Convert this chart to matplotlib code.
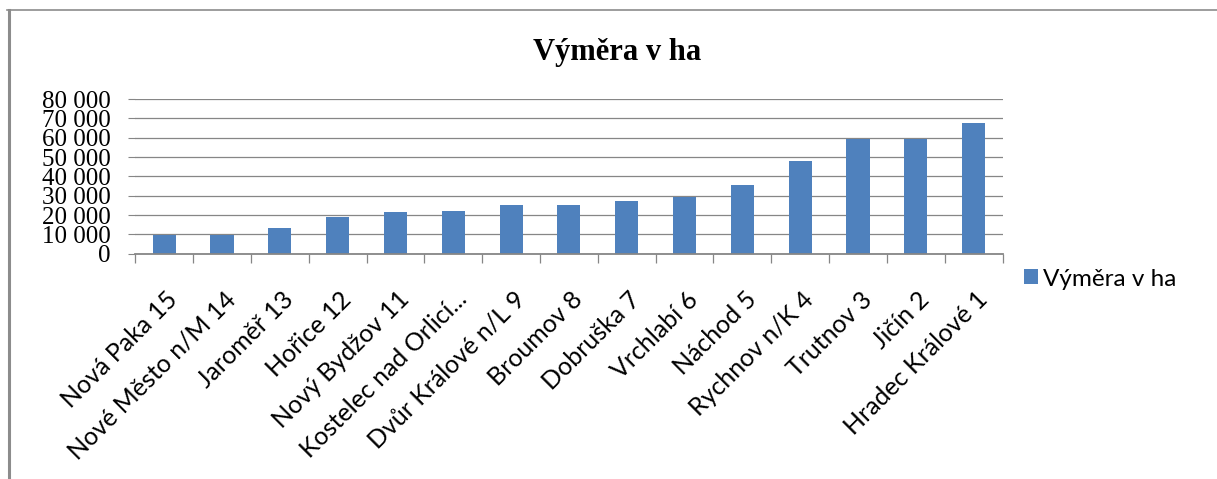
import matplotlib
matplotlib.use("Agg")
import matplotlib.pyplot as plt
import matplotlib.transforms as mtransforms
from matplotlib.lines import Line2D

# ---- data ----
categories = ["Nová Paka 15", "Nové Město n/M 14", "Jaroměř 13", "Hořice 12",
              "Nový Bydžov 11", "Kostelec nad Orlicí...", "Dvůr Králové n/L 9",
              "Broumov 8", "Dobruška 7", "Vrchlabí 6", "Náchod 5", "Rychnov n/K 4",
              "Trutnov 3", "Jičín 2", "Hradec Králové 1"]
values = [9800, 9800, 13400, 19100, 21600, 22100, 25200, 25200,
          27200, 29500, 35500, 47900, 59500, 59500, 67600]
yticks = [0, 10000, 20000, 30000, 40000, 50000, 60000, 70000, 80000]
series_name = "Výměra v ha"
title_text = "Výměra v ha"

W, H = 1217, 479
fig = plt.figure(figsize=(W / 100, H / 100), dpi=100)
fig.patch.set_facecolor("white")

BAR = "#4F81BD"
GRID = "#868686"
SANS = ["Lato", "DejaVu Sans"]
SERIF = ["Liberation Serif", "DejaVu Serif"]

ax = fig.add_axes([135.3 / W, (H - 253.7) / H, 867.2 / W, 154.7 / H])
x = list(range(len(categories)))
bars = ax.bar(x, values, width=0.4, color=BAR, zorder=3, label=series_name)
ax.set_xlim(-0.5, len(categories) - 0.5)
ax.set_ylim(0, 80000)

# y axis
ax.set_yticks(yticks)
ax.set_yticklabels([f"{v:,.0f}".replace(",", " ") for v in yticks],
                   family=SERIF, fontsize=18)
ax.tick_params(axis="y", length=5, width=0.8, color=GRID, pad=13, direction="out")
ax.yaxis.grid(True, color=GRID, linewidth=0.9, zorder=0)
for s in ["left", "right", "top"]:
    ax.spines[s].set_visible(False)
ax.spines["bottom"].set_color(GRID)
ax.spines["bottom"].set_linewidth(1.3)
ax.spines["bottom"].set_zorder(4)

# x ticks at category boundaries
ax.set_xticks([i - 0.5 for i in range(len(categories) + 1)])
ax.set_xticklabels([])
ax.tick_params(axis="x", length=6.3, width=0.9, color=GRID, direction="out")

# rotated category labels
base = ax.get_xaxis_transform()
off = mtransforms.ScaledTranslation(10 / 100, -42 / 100, fig.dpi_scale_trans)
for i, c in enumerate(categories):
    ax.text(i, 0, c, transform=base + off, rotation=45, rotation_mode="anchor",
            ha="right", va="center", fontsize=18, family=SANS, color="black")

# title
fig.text(617 / W, (H - 60) / H, title_text, ha="center", va="baseline",
         family=SERIF, fontweight="bold", fontsize=22)

# legend
leg = fig.legend(handles=[bars], labels=[series_name], loc="center left",
                 bbox_to_anchor=(1024 / W, (H - 279) / H), frameon=False,
                 prop={"family": SANS, "size": 17.5}, handlelength=0.57,
                 handleheight=0.57, handletextpad=0.2, borderpad=0,
                 borderaxespad=0)

# chart frame (top and left edges visible)
fig.add_artist(Line2D([7 / W, 1.0], [(H - 10) / H, (H - 10) / H],
                      transform=fig.transFigure, color="#8c8c8c", linewidth=1.2))
fig.add_artist(Line2D([8.5 / W, 8.5 / W], [0, (H - 10) / H],
                      transform=fig.transFigure, color="#8c8c8c", linewidth=2.2))

fig.savefig("out.png", dpi=100, facecolor="white")
